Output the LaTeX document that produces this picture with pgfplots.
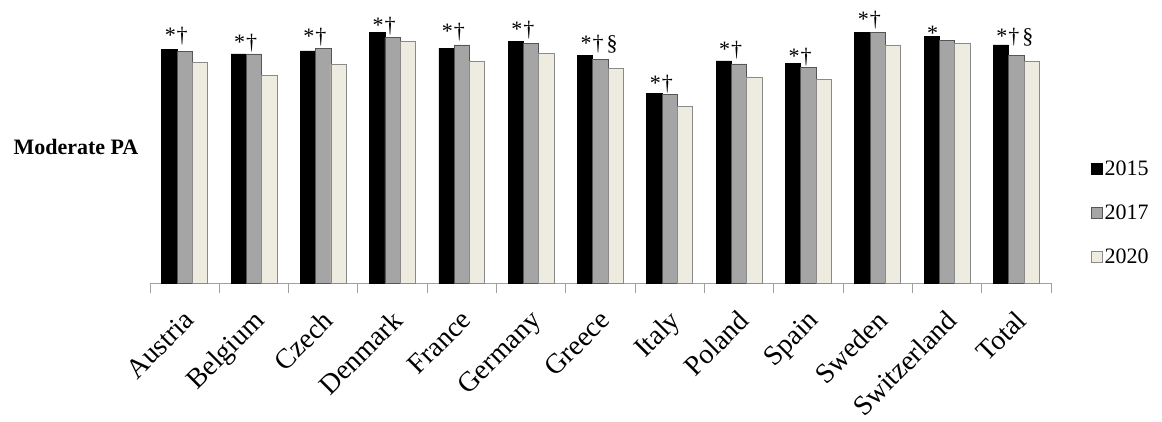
\documentclass[border=0pt]{standalone}
\usepackage{pgfplots}
\pgfplotsset{compat=1.18}
\usepackage{fontspec}
\setmainfont{Liberation Serif}
\definecolor{gbar}{HTML}{A5A5A5}
\definecolor{gedge}{HTML}{555555}
\definecolor{cbar}{HTML}{EEECE1}
\definecolor{cedge}{HTML}{8A8A8A}
\definecolor{axgray}{HTML}{A0A0A0}
\begin{document}
\begin{tikzpicture}[x=1pt,y=1pt]
\useasboundingbox (0,0) rectangle (1162,421);
\node[anchor=west,font=\fontsize{22}{26}\selectfont\bfseries] at (10,274) {Moderate PA};
\begin{axis}[
  at={(150pt,137.7pt)}, anchor=south west,
  width=901pt, height=280pt, scale only axis,
  xmin=-0.5, xmax=12.5, ymin=0, ymax=280,
  ybar=0pt, bar width=15.3pt,
  axis y line=none,
  axis x line*=bottom,
  x axis line style={draw=axgray, line width=1pt, -},
  xtick={0,...,12},
  xticklabels={Austria,Belgium,Czech,Denmark,France,Germany,Greece,Italy,Poland,Spain,Sweden,Switzerland,Total},
  major x tick style={draw=none},
  minor xtick={-0.5,0.5,...,12.5},
  minor tick length=10pt,
  tick align=outside,
  minor x tick style={draw=axgray, line width=1pt},
  x tick label style={rotate=45, anchor=north east, font=\fontsize{28}{32}\selectfont, xshift=-13pt, yshift=-10pt},
  legend style={at={(1.0406,0.452)}, anchor=north west, draw=none, fill=none,
    font=\fontsize{22}{26}\selectfont, row sep=24pt, legend cell align=left},
  legend image code/.code={\draw[#1, line width=0.8pt] (0pt,-5.5pt) rectangle (11pt,5.5pt);},
  clip=false,
]
\addplot[fill=black, draw=black, line width=0.8pt] coordinates {
 (0,234.0) (1,229.3) (2,232.3) (3,250.6) (4,235.0) (5,242.0) (6,228.0)
 (7,189.6) (8,222.3) (9,219.6) (10,250.6) (11,246.6) (12,238.3)};
\addplot[fill=gbar, draw=gedge, line width=0.8pt] coordinates {
 (0,231.6) (1,229.3) (2,234.6) (3,246.0) (4,238.3) (5,239.6) (6,223.6)
 (7,189.0) (8,219.3) (9,216.0) (10,250.6) (11,243.0) (12,227.6)};
\addplot[fill=cbar, draw=cedge, line width=0.8pt] coordinates {
 (0,220.6) (1,207.6) (2,219.3) (3,241.6) (4,222.0) (5,229.6) (6,215.0)
 (7,176.6) (8,206.3) (9,203.6) (10,238.3) (11,239.6) (12,222.0)};
\legend{2015,2017,2020}
\begin{scope}[every node/.style={anchor=base west, inner sep=0pt, font=\fontsize{22}{26}\selectfont}]
\node at (axis cs:-0.29,240.3) {*\kern1pt†};
\node at (axis cs:0.71,233.6) {*\kern1pt†};
\node at (axis cs:1.71,239.3) {*\kern1pt†};
\node at (axis cs:2.71,250.3) {*\kern1pt†};
\node at (axis cs:3.71,244.6) {*\kern1pt†};
\node at (axis cs:4.71,247.0) {*\kern1pt†};
\node at (axis cs:5.71,233.0) {*\kern1pt†\kern3pt§};
\node at (axis cs:6.71,193.0) {*\kern1pt†};
\node at (axis cs:7.71,226.3) {*\kern1pt†};
\node at (axis cs:8.71,219.6) {*\kern1pt†};
\node at (axis cs:9.71,257.0) {*\kern1pt†};
\node at (axis cs:10.71,243.0) {*};
\node at (axis cs:11.71,239.6) {*\kern1pt†\kern3pt§};
\end{scope}
\end{axis}
\end{tikzpicture}
\end{document}
